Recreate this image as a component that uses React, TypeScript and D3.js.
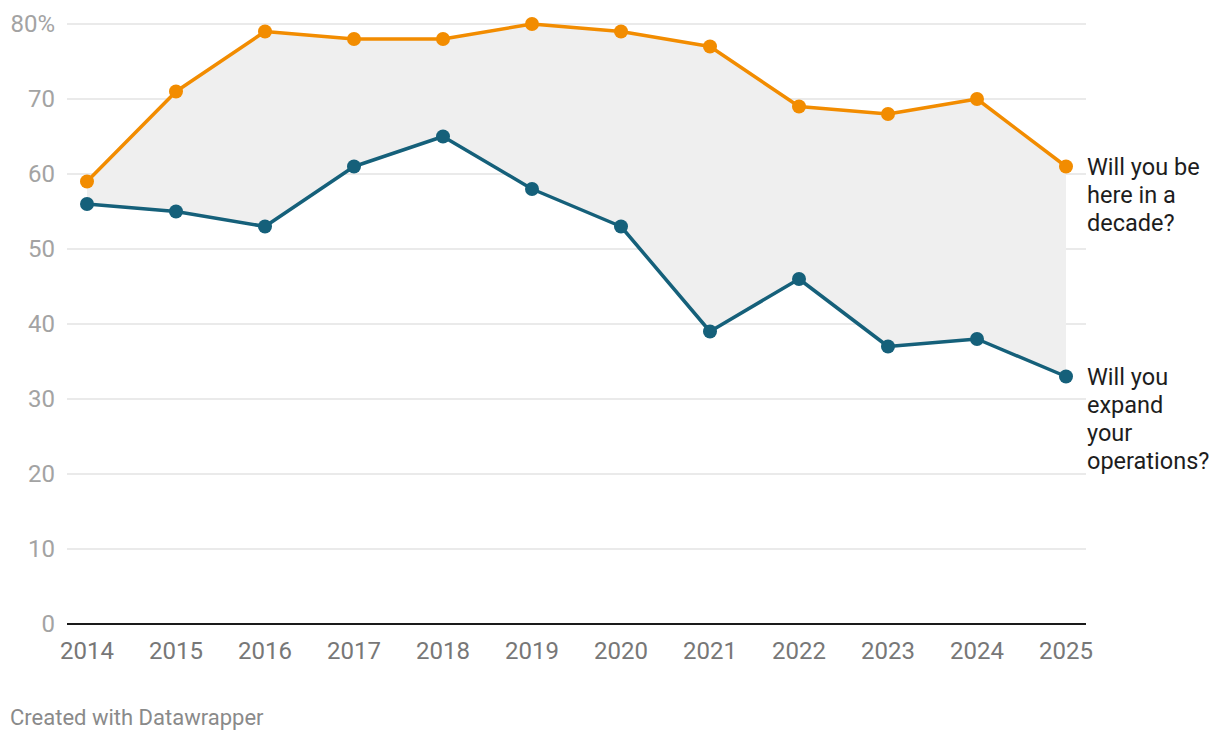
import { useEffect, useRef } from "react";
import * as d3 from "d3";

const W = 1220;
const H = 740;
const PAD = { top: 24, right: 154, bottom: 116, left: 67 };

const years = ["2014", "2015", "2016", "2017", "2018", "2019", "2020", "2021", "2022", "2023", "2024", "2025"];
const hereInDecade = [59, 71, 79, 78, 78, 80, 79, 77, 69, 68, 70, 61];
const expandOps = [56, 55, 53, 61, 65, 58, 53, 39, 46, 37, 38, 33];
const yTicks = [0, 10, 20, 30, 40, 50, 60, 70, 80];

const ORANGE = "#f28c00";
const BLUE = "#15607a";
const FONT = "Roboto, sans-serif";

export default function App() {
  const svgRef = useRef<SVGSVGElement>(null);

  useEffect(() => {
    const svg = d3.select(svgRef.current);
    if (!svg.node()) return;
    svg.selectAll("*").remove();

    const x = d3
      .scalePoint()
      .domain(years)
      .range([87, W - PAD.right]);
    const y = d3
      .scaleLinear()
      .domain([0, 80])
      .range([H - PAD.bottom, PAD.top]);

    // gridlines + y labels
    const grid = svg.append("g");
    grid
      .selectAll("line")
      .data(yTicks.filter((t) => t > 0))
      .enter()
      .append("line")
      .attr("x1", PAD.left)
      .attr("x2", W - PAD.right + 20)
      .attr("y1", (d) => y(d))
      .attr("y2", (d) => y(d))
      .attr("stroke", "#e3e3e3")
      .attr("stroke-width", 1.3);
    grid
      .selectAll("text")
      .data(yTicks)
      .enter()
      .append("text")
      .attr("x", 55)
      .attr("y", (d) => y(d))
      .attr("dy", "0.35em")
      .attr("text-anchor", "end")
      .style("font-family", FONT)
      .style("font-size", "24px")
      .style("fill", "#a3a3a3")
      .text((d) => (d === 80 ? "80%" : String(d)));

    // shaded band between the two series
    const rows = years.map((yr, i) => ({ yr, a: hereInDecade[i], b: expandOps[i] }));
    const area = d3
      .area<(typeof rows)[number]>()
      .x((d) => x(d.yr)!)
      .y0((d) => y(d.b))
      .y1((d) => y(d.a));
    svg.append("path").attr("d", area(rows)).attr("fill", "#efefef");

    // baseline
    svg
      .append("line")
      .attr("x1", PAD.left)
      .attr("x2", W - PAD.right + 20)
      .attr("y1", y(0))
      .attr("y2", y(0))
      .attr("stroke", "#1a1a1a")
      .attr("stroke-width", 2);

    // x labels
    svg
      .append("g")
      .selectAll("text")
      .data(years)
      .enter()
      .append("text")
      .attr("x", (d) => x(d)!)
      .attr("y", y(0) + 27)
      .attr("dy", "0.35em")
      .attr("text-anchor", "middle")
      .style("font-family", FONT)
      .style("font-size", "24px")
      .style("fill", "#777777")
      .text((d) => d);

    const series = [
      { vals: hereInDecade, color: ORANGE, label: ["Will you be", "here in a", "decade?"] },
      { vals: expandOps, color: BLUE, label: ["Will you", "expand", "your", "operations?"] },
    ];

    series.forEach((s) => {
      const line = d3
        .line<number>()
        .x((_d, i) => x(years[i])!)
        .y((d) => y(d));
      svg
        .append("path")
        .attr("d", line(s.vals))
        .attr("fill", "none")
        .attr("stroke", s.color)
        .attr("stroke-width", 3.5)
        .attr("stroke-linejoin", "round");
      svg
        .append("g")
        .selectAll("circle")
        .data(s.vals)
        .enter()
        .append("circle")
        .attr("cx", (_d, i) => x(years[i])!)
        .attr("cy", (d) => y(d))
        .attr("r", 7)
        .attr("fill", s.color);

      const last = s.vals[s.vals.length - 1];
      const t = svg
        .append("text")
        .attr("x", x(years[years.length - 1])! + 21)
        .attr("y", y(last))
        .style("font-family", FONT)
        .style("font-size", "23.5px")
        .style("fill", "#1d1d1d");
      s.label.forEach((ln, i) => {
        t.append("tspan")
          .attr("x", x(years[years.length - 1])! + 21)
          .attr("dy", i === 0 ? "0.35em" : "28px")
          .text(ln);
      });
    });

    svg
      .append("text")
      .attr("x", 10)
      .attr("y", 717)
      .attr("dy", "0.35em")
      .style("font-family", FONT)
      .style("font-size", "22px")
      .style("fill", "#8a8a8a")
      .text("Created with Datawrapper");
  }, []);

  return (
    <svg
      ref={svgRef}
      width={W}
      height={H}
      style={{ position: "absolute", left: 0, top: 0, background: "#fff" }}
    />
  );
}
